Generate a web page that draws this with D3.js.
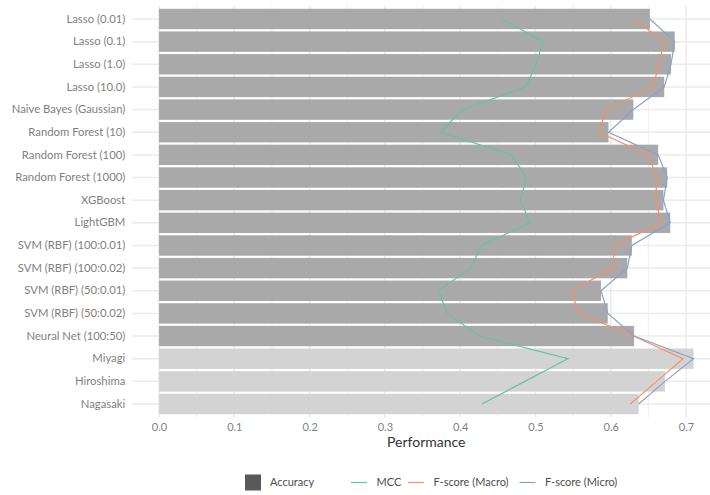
<!DOCTYPE html>
<html>
<head>
<meta charset="utf-8">
<script src="https://cdn.jsdelivr.net/npm/d3@7"></script>
<style>
  html, body { margin: 0; padding: 0; background: #fff; }
  svg { display: block; font-family: "Lato", "Open Sans", sans-serif; }
</style>
</head>
<body>
<svg id="chart" width="710" height="495"></svg>
<script>
// Classifier / prefecture names, top to bottom
const categories = [
  "Lasso (0.01)", "Lasso (0.1)", "Lasso (1.0)", "Lasso (10.0)",
  "Naive Bayes (Gaussian)", "Random Forest (10)", "Random Forest (100)",
  "Random Forest (1000)", "XGBoost", "LightGBM",
  "SVM (RBF) (100:0.01)", "SVM (RBF) (100:0.02)", "SVM (RBF) (50:0.01)",
  "SVM (RBF) (50:0.02)", "Neural Net (100:50)",
  "Miyagi", "Hiroshima", "Nagasaki"
];
// Rows drawn with the lighter bar colour
const prefectures = ["Miyagi", "Hiroshima", "Nagasaki"];

const accuracy = [0.652, 0.685, 0.680, 0.671, 0.630, 0.597, 0.663, 0.675, 0.670,
                  0.679, 0.628, 0.622, 0.587, 0.596, 0.631, 0.710, 0.672, 0.637];
const mcc      = [0.456, 0.510, 0.501, 0.487, 0.403, 0.374, 0.468, 0.488, 0.480,
                  0.493, 0.428, 0.414, 0.371, 0.383, 0.425, 0.543, 0.486, 0.429];
const fMacro   = [0.631, 0.671, 0.664, 0.656, 0.594, 0.584, 0.650, 0.661, 0.660,
                  0.667, 0.605, 0.603, 0.548, 0.557, 0.630, 0.696, 0.661, 0.626];
const fMicro   = [0.652, 0.685, 0.680, 0.671, 0.630, 0.597, 0.663, 0.675, 0.670,
                  0.679, 0.628, 0.622, 0.587, 0.596, 0.631, 0.710, 0.672, 0.637];

const xTicks = [0, 0.1, 0.2, 0.3, 0.4, 0.5, 0.6, 0.7];
const xMinor = [0.05, 0.15, 0.25, 0.35, 0.45, 0.55, 0.65];
const legendLines = ["MCC", "F-score (Macro)", "F-score (Micro)"];

const svg = d3.select("#chart");

const x = d3.scaleLinear().domain([-0.0355, 0.7455]).range([132.3, 720.3]);
const y = d3.scaleBand().domain(categories).range([5.4, 417.6])
  .paddingInner(0.1).paddingOuter(0.15);
const yc = c => y(c) + y.bandwidth() / 2;

const lineColor = d3.scaleOrdinal().domain(legendLines)
  .range(["#66C2A5", "#FC8D62", "#8DA0CB"]);

const [panelTop, panelBottom] = y.range();
const [panelLeft, panelRight] = x.range();

// grid
const grid = svg.append("g");
grid.selectAll("line.minor").data(xMinor).join("line")
  .attr("class", "minor")
  .attr("x1", d => x(d)).attr("x2", d => x(d))
  .attr("y1", panelTop).attr("y2", panelBottom)
  .attr("stroke", "#EBEBEB").attr("stroke-width", 0.8);
grid.selectAll("line.major").data(xTicks).join("line")
  .attr("class", "major")
  .attr("x1", d => x(d)).attr("x2", d => x(d))
  .attr("y1", panelTop).attr("y2", panelBottom)
  .attr("stroke", "#EBEBEB").attr("stroke-width", 1.5);
grid.selectAll("line.row").data(categories).join("line")
  .attr("class", "row")
  .attr("x1", panelLeft).attr("x2", panelRight)
  .attr("y1", d => yc(d)).attr("y2", d => yc(d))
  .attr("stroke", "#EBEBEB").attr("stroke-width", 1.5);

// accuracy bars
svg.append("g").selectAll("rect").data(categories).join("rect")
  .attr("x", x(0))
  .attr("y", d => y(d))
  .attr("width", (d, i) => x(accuracy[i]) - x(0))
  .attr("height", y.bandwidth())
  .attr("fill", d => prefectures.includes(d) ? "#D3D3D3" : "#A9A9A9");

// metric lines
const series = [
  { name: "MCC", values: mcc },
  { name: "F-score (Macro)", values: fMacro },
  { name: "F-score (Micro)", values: fMicro }
];
const line = d3.line().x(d => x(d.v)).y(d => yc(d.c));
svg.append("g").selectAll("path").data(series).join("path")
  .attr("d", s => line(categories.map((c, i) => ({ c, v: s.values[i] }))))
  .attr("fill", "none")
  .attr("stroke", s => lineColor(s.name))
  .attr("stroke-width", 1.2);

// axes
const yAxis = svg.append("g").attr("transform", `translate(${panelLeft},0)`)
  .call(d3.axisLeft(y).tickSize(0).tickPadding(7));
const xAxis = svg.append("g").attr("transform", `translate(0,${panelBottom})`)
  .call(d3.axisBottom(x).tickValues(xTicks).tickFormat(d3.format(".1f"))
    .tickSize(0).tickPadding(5.5));
[yAxis, xAxis].forEach(a => {
  a.select(".domain").remove();
  a.selectAll("text").attr("fill", "#7F7F7F")
    .style("font-family", "Lato, 'Open Sans', sans-serif");
});
yAxis.selectAll("text").style("font-size", "11.3px");
xAxis.selectAll("text").style("font-size", "11px");

svg.append("text")
  .attr("x", (panelLeft + panelRight) / 2).attr("y", 447)
  .attr("text-anchor", "middle")
  .attr("fill", "#333").style("font-size", "14px")
  .text("Performance");

// legend
const legend = svg.append("g").style("font-size", "11px").attr("fill", "#4D4D4D");
const ly = 482.5;
legend.append("rect").attr("x", 245).attr("y", ly - 8).attr("width", 16).attr("height", 16)
  .attr("fill", "#595959");
legend.append("text").attr("x", 270).attr("y", ly).attr("dy", "0.35em").text("Accuracy");
const keyX = [351, 408, 519.5];
legendLines.forEach((name, i) => {
  legend.append("line")
    .attr("x1", keyX[i]).attr("x2", keyX[i] + 16)
    .attr("y1", ly).attr("y2", ly)
    .attr("stroke", lineColor(name)).attr("stroke-width", 1.2);
  legend.append("text").attr("x", keyX[i] + 25.5).attr("y", ly).attr("dy", "0.35em")
    .text(name);
});
</script>
</body>
</html>
